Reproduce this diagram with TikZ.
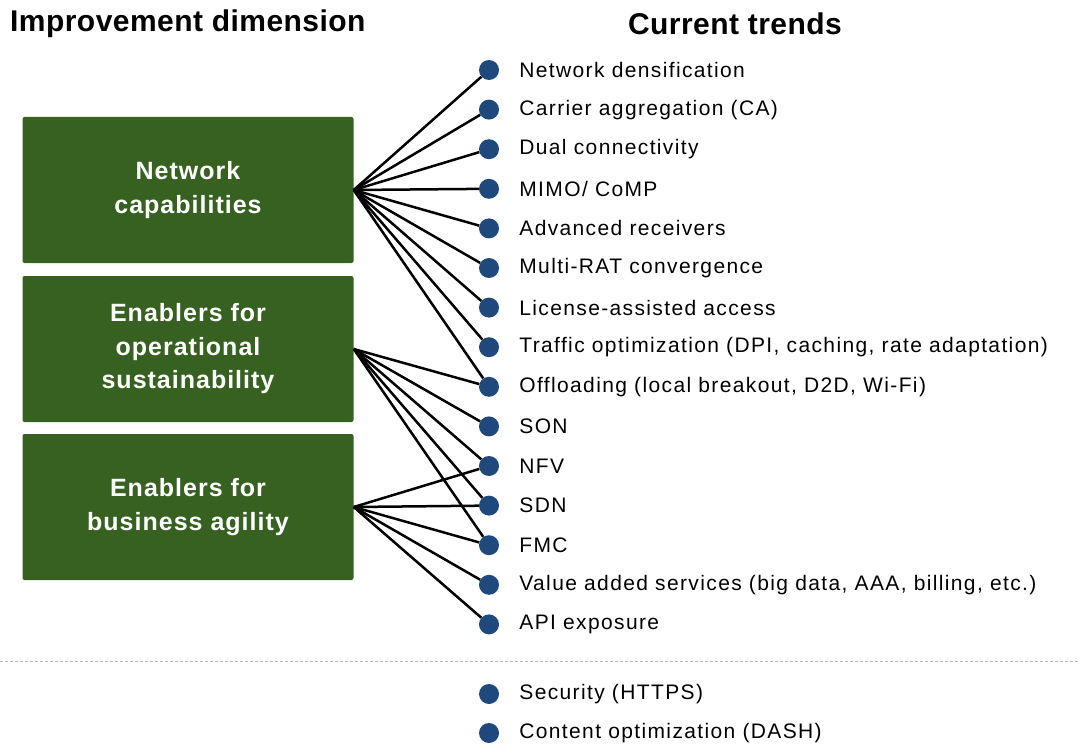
\documentclass[tikz,border=0pt]{standalone}
\usepackage{fontspec}
\setmainfont{Liberation Sans}
\usepackage{xcolor}
\usepackage{tikz}
\usetikzlibrary{positioning}

\definecolor{boxgreen}{HTML}{376121}
\definecolor{dotblue}{HTML}{1F497D}

\begin{document}
\begin{tikzpicture}[x=1pt, y=-1pt,
	head/.style={font=\fontsize{30}{34}\selectfont\bfseries\addfontfeature{LetterSpace=1.5}, inner sep=0},
	dimbox/.style={fill=boxgreen, rounded corners=2, minimum width=331, minimum height=146, inner sep=0,
		align=center, text=white, font=\fontsize{25}{33.5}\selectfont\bfseries\addfontfeature{LetterSpace=4}},
	circ/.style={circle, fill=dotblue, minimum size=20, inner sep=0},
	trend/.style={font=\fontsize{21}{24}\selectfont\addfontfeature{LetterSpace=6.5}, inner sep=0, label distance=20},
	link/.style={line width=2.5}
]
\useasboundingbox (0,0) rectangle (1080,749);

\node[head, anchor=west] (hdim) at (10,24) {Improvement dimension};
\node[head] (htrend) at (735,24) {Current trends};

\node[dimbox] (netcap) at (188,190) {Network\\capabilities};
\node[dimbox] (opsus) at (188,349) {Enablers for\\operational\\sustainability};
\node[dimbox] (busag) at (188,507) {Enablers for\\business agility};

\node [circ, label={[trend]right:Network densification}] (t1) at (489,70) {};
\node [circ, label={[trend]right:Carrier aggregation (CA)}] (t2) at (489,109.6) {};
\node [circ, label={[trend]right:Dual connectivity}] (t3) at (489,149.2) {};
\node [circ, label={[trend]right:MIMO/ CoMP}] (t4) at (489,188.8) {};
\node [circ, label={[trend]right:Advanced receivers}] (t5) at (489,228.4) {};
\node [circ, label={[trend]right:Multi-RAT convergence}] (t6) at (489,268) {};
\node [circ, label={[trend]right:License-assisted access}] (t7) at (489,307.6) {};
\node [circ, label={[trend]right:Traffic optimization\ (DPI, caching, rate adaptation)}] (t8) at (489,347.2) {};
\node [circ, label={[trend]right:Offloading (local breakout, D2D, Wi-Fi)}] (t9) at (489,386.8) {};
\node [circ, label={[trend]right:SON}] (t10) at (489,426.4) {};
\node [circ, label={[trend]right:NFV}] (t11) at (489,466) {};
\node [circ, label={[trend]right:SDN}] (t12) at (489,505.6) {};
\node [circ, label={[trend]right:FMC}] (t13) at (489,545.2) {};
\node [circ, label={[trend]right:Value added services (big data, AAA, billing, etc.)}] (t14) at (489,584.8) {};
\node [circ, label={[trend]right:API exposure}] (t15) at (489,624.4) {};

\node [circ, label={[trend]right:Security (HTTPS)}] (s1) at (489,694) {};
\node [circ, label={[trend]right:Content optimization (DASH)}] (s2) at (489,733) {};

\coordinate (sepl) at (0,661);
\coordinate (sepr) at (1080,661);
\draw[gray!55, dash pattern=on 3pt off 2pt, line width=1] (sepl) -- (sepr);

% network capabilities
\foreach \t in {t1,t2,t3,t4,t5,t6,t7,t8,t9}
	\draw[link] (netcap.east) -- (\t);
% operational sustainability
\foreach \t in {t9,t10,t11,t12,t13}
	\draw[link] (opsus.east) -- (\t);
% business agility
\foreach \t in {t11,t12,t13,t14,t15}
	\draw[link] (busag.east) -- (\t);
\end{tikzpicture}
\end{document}
